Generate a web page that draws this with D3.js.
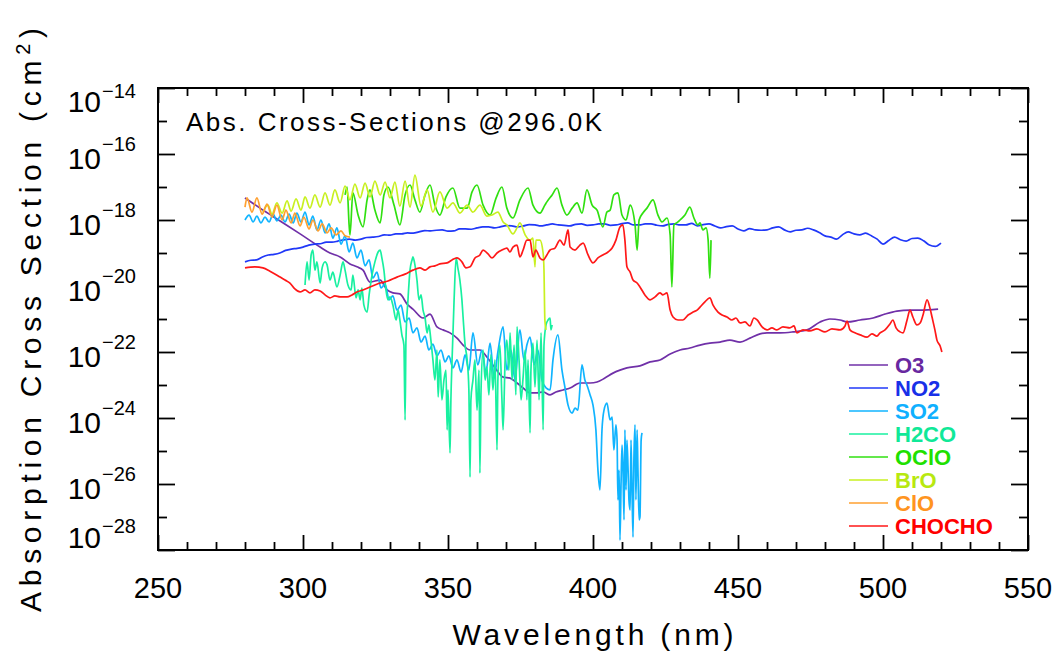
<!DOCTYPE html>
<html><head><meta charset="utf-8">
<script src="https://cdn.jsdelivr.net/npm/d3@7"></script>
<style>body{margin:0;background:#fff}svg{display:block}</style>
</head><body><svg id="c" width="1062" height="653"></svg>
<script>
// ---------------- DATA ----------------
const xTickLabels = [250, 300, 350, 400, 450, 500, 550];
const yTickExps = [-14, -16, -18, -20, -22, -24, -26, -28];
const seriesNames = ["O3", "NO2", "SO2", "H2CO", "OClO", "BrO", "ClO", "CHOCHO"];
const seriesColors = ["#7030a8", "#2038f8", "#10b4ff", "#18f0a0", "#30e010", "#c8f020", "#ffa030", "#ff1818"];
const legendTextColors = ["#6828a0", "#1830e8", "#10b0ff", "#10e898", "#20e000", "#b8e810", "#ff9420", "#ff0000"];
const titleText = "Abs. Cross-Sections @296.0K";

// values: [wavelength nm, log10(cross section cm^2)]
const o3 = [[280.0,-17.33],[285.2,-17.64],[292.1,-18.03],[299.0,-18.42],[305.9,-18.82],[309.3,-19.00],[312.8,-19.12],[316.2,-19.33],[318.6,-19.42],[320.7,-19.52],[323.1,-19.88],[326.6,-19.82],[329.0,-20.12],[331.0,-20.21],[333.4,-20.24],[335.9,-20.55],[337.9,-20.70],[341.4,-20.97],[343.8,-20.85],[346.2,-21.24],[348.3,-21.33],[350.7,-21.42],[353.1,-21.58],[355.2,-21.79],[357.6,-21.94],[361.0,-21.94],[363.4,-22.15],[366.2,-22.48],[369.0,-22.76],[371.4,-22.79],[373.8,-22.94],[375.9,-23.09],[378.3,-23.24],[380.7,-23.24],[382.8,-23.21],[385.2,-23.30],[387.2,-23.21],[389.7,-23.15],[392.1,-23.09],[395.5,-22.94],[399.0,-22.94],[401.4,-22.91],[404.1,-22.79],[406.9,-22.64],[409.3,-22.55],[411.7,-22.48],[416.2,-22.42],[419.7,-22.30],[423.1,-22.24],[426.6,-22.06],[430.0,-21.94],[433.4,-21.88],[436.9,-21.79],[440.3,-21.73],[443.8,-21.70],[447.2,-21.64],[450.7,-21.70],[454.1,-21.58],[457.6,-21.45],[460.0,-21.42],[464.5,-21.42],[469.0,-21.39],[473.8,-21.33],[478.3,-21.09],[481.7,-21.00],[485.2,-21.03],[487.6,-21.09],[492.1,-21.03],[496.6,-20.97],[500.7,-20.85],[504.8,-20.76],[509.3,-20.73],[512.8,-20.73],[519.0,-20.70]];

const no2Start = 280, no2Step = 2;
const no2 = [-19.27,-19.22,-19.21,-19.12,-19.06,-19.04,-19.00,-18.92,-18.88,-18.86,-18.82,-18.76,-18.73,-18.72,-18.67,-18.67,-18.64,-18.60,-18.58,-18.61,-18.58,-18.53,-18.52,-18.50,-18.45,-18.46,-18.42,-18.42,-18.39,-18.40,-18.36,-18.32,-18.33,-18.31,-18.30,-18.34,-18.33,-18.27,-18.27,-18.28,-18.24,-18.21,-18.21,-18.24,-18.21,-18.17,-18.18,-18.21,-18.18,-18.14,-18.15,-18.18,-18.15,-18.12,-18.15,-18.16,-18.18,-18.13,-18.12,-18.16,-18.15,-18.12,-18.12,-18.16,-18.15,-18.11,-18.09,-18.15,-18.15,-18.12,-18.12,-18.16,-18.18,-18.13,-18.12,-18.15,-18.15,-18.10,-18.18,-18.14,-18.12,-18.18,-18.24,-18.20,-18.18,-18.27,-18.33,-18.26,-18.30,-18.31,-18.30,-18.24,-18.21,-18.30,-18.36,-18.31,-18.30,-18.25,-18.30,-18.38,-18.48,-18.52,-18.58,-18.45,-18.36,-18.42,-18.45,-18.40,-18.48,-18.58,-18.73,-18.62,-18.52,-18.60,-18.64,-18.56,-18.55,-18.63,-18.76,-18.80,-18.70];

const so2 = [[280.0,-18.00],[281.4,-17.85],[282.8,-18.06],[284.1,-17.88],[285.5,-18.09],[286.9,-17.91],[288.3,-18.06],[289.7,-17.82],[291.0,-18.03],[292.4,-17.85],[293.8,-18.06],[295.2,-17.82],[296.6,-18.09],[297.9,-17.79],[299.3,-18.06],[300.7,-17.76],[302.1,-18.15],[303.4,-17.88],[304.8,-18.30],[306.2,-18.00],[307.6,-18.39],[309.0,-18.12],[310.3,-18.55],[311.7,-18.24],[313.1,-18.73],[314.5,-18.48],[315.9,-18.97],[317.2,-18.70],[318.6,-19.15],[320.0,-18.91],[321.4,-19.39],[322.8,-19.21],[324.1,-19.76],[325.5,-19.58],[326.9,-20.06],[328.3,-19.94],[329.7,-20.42],[331.0,-20.30],[332.4,-20.73],[333.8,-20.58],[335.2,-21.09],[336.6,-20.97],[337.9,-21.42],[339.3,-21.27],[340.7,-21.70],[342.1,-21.52],[343.4,-21.94],[344.8,-21.76],[346.2,-22.12],[347.6,-21.94],[349.0,-22.30],[350.3,-22.12],[351.7,-22.48],[353.1,-22.24],[354.5,-22.61],[355.9,-22.09],[357.2,-22.55],[358.6,-21.42],[360.3,-22.39],[361.7,-21.94],[363.1,-22.61],[364.5,-21.73],[365.9,-22.79],[367.2,-22.00],[369.0,-21.24],[370.3,-22.55],[371.7,-21.94],[373.1,-22.85],[374.8,-21.33],[376.2,-22.24],[377.2,-21.79],[378.3,-21.55],[379.7,-22.39],[381.0,-21.94],[382.4,-22.85],[383.8,-23.09],[385.2,-23.15],[386.2,-22.24],[387.9,-21.48],[389.3,-22.55],[390.3,-23.06],[391.4,-23.61],[392.8,-23.85],[393.8,-23.70],[394.8,-23.76],[396.2,-22.39],[397.2,-22.85],[397.9,-23.00],[399.0,-23.30],[400.0,-23.61],[401.0,-24.36],[401.7,-25.58],[402.4,-26.18],[403.1,-24.36],[403.8,-23.76],[404.8,-23.55],[405.9,-24.06],[406.6,-23.97],[407.2,-24.97],[407.9,-24.21],[408.3,-24.67],[408.6,-26.48],[409.0,-25.58],[409.3,-27.70],[409.7,-25.88],[410.0,-24.82],[410.3,-25.36],[410.7,-27.09],[411.0,-24.36],[411.4,-26.18],[411.7,-24.67],[412.1,-25.58],[412.4,-26.48],[412.8,-26.79],[413.1,-24.67],[413.4,-25.88],[413.8,-27.61],[414.1,-25.27],[414.5,-24.21],[414.8,-26.48],[415.2,-24.36],[415.5,-25.58],[415.9,-27.09],[416.2,-27.00],[416.6,-24.67],[416.9,-24.45]];

const h2co = [[300.7,-19.97],[301.4,-19.27],[302.1,-19.82],[302.8,-19.06],[303.4,-18.91],[304.1,-19.52],[304.8,-19.27],[305.9,-19.91],[306.6,-19.45],[307.6,-19.27],[308.3,-19.36],[309.3,-19.82],[310.3,-19.58],[311.7,-20.03],[312.8,-19.67],[313.8,-19.27],[314.5,-19.52],[315.5,-19.97],[316.6,-20.12],[317.2,-19.67],[318.3,-20.36],[319.0,-20.12],[319.7,-20.42],[320.3,-20.06],[321.0,-20.58],[322.1,-20.79],[322.8,-20.27],[323.8,-19.67],[324.8,-19.27],[325.9,-18.97],[326.6,-18.91],[327.2,-19.15],[327.9,-19.52],[328.6,-20.12],[329.3,-20.42],[330.0,-20.33],[331.0,-20.58],[332.1,-21.03],[332.8,-20.73],[333.4,-21.03],[334.1,-21.48],[334.8,-21.79],[335.2,-24.06],[335.5,-21.64],[336.2,-20.42],[336.9,-19.52],[337.6,-19.21],[337.9,-19.12],[338.6,-19.36],[339.3,-19.82],[340.0,-20.42],[340.7,-20.27],[341.4,-20.73],[342.1,-20.97],[342.8,-21.42],[343.4,-21.18],[344.1,-21.64],[344.8,-22.24],[345.5,-22.85],[346.2,-21.94],[346.6,-23.36],[347.2,-22.24],[347.9,-23.45],[348.6,-22.85],[349.3,-22.55],[349.7,-24.36],[350.0,-23.15],[350.7,-25.06],[351.0,-23.45],[351.4,-22.24],[352.1,-20.42],[352.8,-19.15],[353.4,-19.45],[354.1,-19.82],[354.8,-20.42],[355.2,-20.94],[355.9,-21.79],[356.6,-22.24],[357.2,-23.15],[357.6,-25.79],[357.9,-23.45],[358.6,-22.85],[359.3,-22.24],[360.0,-23.76],[360.7,-22.55],[361.0,-25.67],[361.4,-23.15],[362.1,-21.94],[362.8,-22.85],[363.4,-22.45],[364.1,-23.30],[364.8,-22.09],[365.5,-23.15],[366.2,-22.24],[366.9,-24.97],[367.2,-22.85],[367.9,-21.79],[368.6,-23.45],[369.0,-24.36],[369.7,-22.24],[370.3,-21.64],[371.0,-22.55],[371.4,-21.42],[372.1,-22.85],[372.8,-21.79],[373.4,-23.30],[373.8,-21.24],[374.5,-22.24],[375.2,-23.45],[375.9,-22.76],[376.6,-21.94],[377.2,-23.45],[377.6,-22.24],[378.3,-24.45],[378.6,-22.55],[379.3,-21.73],[380.0,-23.06],[380.7,-21.64],[381.4,-23.45],[382.1,-21.42],[382.8,-24.36],[383.1,-21.79],[383.8,-21.18],[384.5,-21.03],[385.2,-20.97],[385.5,-21.33],[385.9,-21.18]];

const oclo = [[314.5,-17.24],[315.2,-17.00],[315.9,-18.15],[316.2,-18.45],[317.2,-17.18],[319.0,-17.85],[320.7,-18.21],[322.1,-17.39],[323.1,-17.09],[324.8,-17.70],[326.6,-18.09],[327.9,-17.24],[329.3,-17.00],[331.4,-17.55],[333.4,-18.15],[335.2,-17.24],[336.9,-16.94],[338.6,-17.39],[340.3,-17.76],[342.1,-17.24],[343.8,-16.94],[345.5,-17.55],[347.2,-17.85],[349.3,-17.30],[351.7,-17.03],[354.1,-17.64],[356.6,-17.64],[358.3,-17.15],[360.0,-16.94],[362.1,-17.55],[364.5,-17.85],[366.6,-17.33],[368.6,-17.00],[370.3,-17.64],[372.4,-17.94],[374.8,-17.39],[377.6,-17.03],[379.3,-17.55],[381.7,-17.79],[383.4,-17.55],[384.1,-17.45],[385.9,-17.24],[387.6,-17.03],[389.3,-17.55],[391.0,-17.85],[392.8,-17.64],[394.5,-17.48],[396.2,-17.79],[397.9,-17.09],[399.7,-17.55],[401.4,-17.70],[403.4,-18.21],[404.8,-17.76],[405.9,-17.70],[407.2,-17.24],[408.6,-17.18],[410.0,-17.85],[411.4,-18.00],[412.8,-17.55],[414.5,-18.15],[415.2,-18.91],[415.9,-18.00],[417.2,-17.79],[418.6,-17.64],[420.7,-17.39],[422.4,-17.85],[423.8,-18.06],[425.5,-17.94],[426.6,-18.45],[427.2,-20.03],[427.9,-18.15],[429.3,-18.06],[430.0,-18.00],[431.7,-17.85],[433.4,-17.61],[434.8,-17.94],[436.2,-18.15],[436.9,-18.09],[437.9,-18.30],[439.0,-18.24],[439.7,-18.61],[440.3,-19.76],[440.7,-18.61]];

const bro = [[286.2,-17.76],[287.9,-17.55],[289.3,-17.82],[291.0,-17.48],[292.8,-17.79],[294.5,-17.42],[295.9,-17.73],[297.6,-17.36],[299.3,-17.70],[300.7,-17.30],[302.4,-17.64],[304.1,-17.24],[305.9,-17.61],[307.6,-17.18],[309.3,-17.55],[311.0,-17.09],[312.8,-17.48],[314.5,-16.97],[316.2,-17.39],[317.9,-16.91],[319.7,-17.33],[321.4,-16.88],[323.1,-17.30],[324.8,-16.82],[326.6,-17.24],[328.3,-16.85],[330.0,-17.33],[331.7,-16.85],[333.4,-17.58],[335.2,-16.82],[336.9,-17.61],[338.6,-16.64],[340.7,-17.58],[342.8,-17.09],[344.8,-17.76],[347.2,-17.15],[349.7,-17.64],[351.7,-17.48],[354.1,-17.79],[356.6,-17.55],[358.6,-17.76],[361.0,-17.55],[363.4,-17.88],[365.2,-17.85],[367.2,-17.76],[369.0,-18.06],[370.3,-18.15],[372.4,-18.42],[373.8,-18.24],[374.8,-18.09],[376.6,-18.45],[378.3,-18.61],[379.3,-18.55],[380.0,-19.42],[380.3,-18.61],[381.7,-18.61],[382.8,-19.00],[383.1,-19.52],[383.4,-21.03],[383.8,-21.33]];

const clo = [[280.0,-17.61],[280.7,-17.33],[282.4,-17.76],[284.1,-17.33],[285.9,-17.82],[287.6,-17.52],[289.3,-17.91],[291.0,-17.55],[292.8,-18.00],[294.1,-17.70],[295.9,-18.09],[297.2,-17.79],[299.0,-18.18],[300.3,-17.91],[302.1,-18.27],[303.4,-18.00],[305.2,-18.33],[306.6,-18.12],[308.3,-18.39],[309.7,-18.24],[311.4,-18.45],[313.1,-18.33],[314.5,-18.48],[316.2,-18.52]];

const chocho = [[280.0,-19.45],[283.4,-19.42],[286.2,-19.45],[288.6,-19.55],[292.1,-19.73],[293.8,-19.82],[295.5,-19.91],[297.2,-20.09],[299.0,-20.18],[300.7,-20.12],[302.4,-20.21],[304.1,-20.12],[305.9,-20.15],[307.6,-20.27],[309.3,-20.36],[311.0,-20.30],[312.8,-20.33],[315.2,-20.33],[316.9,-20.27],[318.6,-20.18],[320.7,-20.12],[323.1,-20.03],[324.8,-19.97],[326.6,-19.91],[329.3,-19.85],[332.4,-19.73],[335.2,-19.64],[337.9,-19.52],[340.3,-19.45],[342.1,-19.52],[343.8,-19.42],[345.5,-19.39],[347.2,-19.33],[349.7,-19.30],[351.4,-19.21],[353.1,-19.15],[354.8,-19.27],[356.2,-19.45],[357.6,-19.42],[359.3,-19.15],[361.0,-19.06],[362.1,-18.91],[363.8,-19.03],[365.2,-19.15],[366.9,-19.00],[368.6,-18.91],[370.3,-18.85],[371.4,-18.97],[372.4,-18.82],[373.8,-18.76],[374.8,-19.12],[375.9,-18.91],[377.2,-18.61],[378.3,-18.61],[379.3,-19.12],[380.3,-18.91],[381.7,-19.15],[382.8,-19.21],[384.1,-19.06],[385.2,-18.91],[386.9,-18.85],[388.6,-18.61],[390.0,-18.76],[391.4,-18.30],[392.1,-18.82],[393.8,-18.91],[395.5,-18.76],[396.6,-18.70],[398.3,-19.06],[400.0,-19.30],[401.7,-19.15],[403.4,-19.06],[405.2,-18.97],[406.6,-18.85],[407.9,-18.61],[409.3,-18.21],[410.3,-18.15],[411.0,-18.61],[411.7,-19.42],[412.8,-19.58],[413.8,-19.82],[415.2,-19.91],[416.2,-20.03],[417.9,-20.27],[419.7,-20.42],[421.4,-20.33],[423.1,-20.21],[424.1,-20.27],[425.5,-20.21],[426.6,-20.73],[427.6,-20.94],[429.3,-21.03],[431.0,-21.03],[432.8,-20.88],[434.5,-20.79],[435.9,-20.73],[436.9,-20.64],[438.6,-20.48],[440.3,-20.36],[441.4,-20.58],[443.1,-20.79],[444.5,-20.88],[446.2,-20.94],[447.9,-21.03],[449.3,-20.97],[450.7,-21.12],[452.4,-21.09],[454.1,-21.21],[455.5,-20.97],[456.6,-21.03],[458.3,-21.24],[460.0,-21.33],[461.7,-21.27],[463.4,-21.33],[465.5,-21.24],[467.9,-21.27],[469.3,-21.21],[470.3,-21.42],[472.4,-21.33],[474.8,-21.36],[477.2,-21.30],[480.0,-21.39],[482.4,-21.30],[485.2,-21.33],[486.9,-21.21],[487.6,-21.06],[488.6,-21.33],[490.3,-21.42],[492.1,-21.48],[494.5,-21.55],[496.2,-21.45],[497.9,-21.52],[499.0,-21.42],[500.7,-21.33],[502.4,-21.15],[503.4,-21.03],[504.5,-21.27],[505.9,-21.39],[506.9,-21.42],[508.3,-21.03],[509.3,-20.73],[510.3,-20.94],[511.7,-21.18],[512.8,-21.12],[513.8,-20.88],[515.2,-20.42],[516.2,-20.67],[516.9,-20.94],[517.9,-21.33],[518.6,-21.64],[519.7,-21.82],[520.3,-22.00]];

// ---------------- DRAW ----------------
const svg = d3.select("#c");
const L = 158, R = 1028, T = 88, B = 550;
const x = d3.scaleLinear().domain([250, 550]).range([L, R]);
const y = d3.scaleLog().domain([1e-28, 1e-14]).range([B, T]);
const FONT = "'Liberation Sans', Arial, sans-serif";

svg.append("defs").append("clipPath").attr("id", "clip")
  .append("rect").attr("x", L).attr("y", T).attr("width", R - L).attr("height", B - T);

const no2Pairs = no2.map((v, i) => [no2Start + i * no2Step, v]);
const allSeries = [o3, no2Pairs, so2, h2co, oclo, bro, clo, chocho];

const line = d3.line().curve(d3.curveMonotoneX).x(d => x(d[0])).y(d => y(Math.pow(10, d[1])));
const plot = svg.append("g").attr("clip-path", "url(#clip)");
allSeries.forEach((s, i) => {
  plot.append("path").datum(s).attr("d", line)
    .attr("fill", "none").attr("stroke", seriesColors[i])
    .attr("stroke-width", 1.7).attr("stroke-linejoin", "round");
});

// axes (ticks only)
function clean(g) {
  g.select(".domain").remove();
  g.selectAll("text").remove();
  g.selectAll("line").attr("stroke", "#000").attr("stroke-width", 1.8);
}
const xMinor = d3.range(250, 551, 10).filter(v => v % 50 !== 0);
const yMajor = yTickExps.map(e => Math.pow(10, e));
const yMinor = d3.range(-27, -14, 2).map(e => Math.pow(10, e));

svg.append("g").attr("transform", `translate(0,${B})`).call(d3.axisBottom(x).tickValues(xTickLabels).tickSize(-15)).call(clean);
svg.append("g").attr("transform", `translate(0,${B})`).call(d3.axisBottom(x).tickValues(xMinor).tickSize(-8)).call(clean);
svg.append("g").attr("transform", `translate(0,${T})`).call(d3.axisTop(x).tickValues(xTickLabels).tickSize(-15)).call(clean);
svg.append("g").attr("transform", `translate(0,${T})`).call(d3.axisTop(x).tickValues(xMinor).tickSize(-8)).call(clean);
svg.append("g").attr("transform", `translate(${L},0)`).call(d3.axisLeft(y).tickValues(yMajor).tickSize(-17)).call(clean);
svg.append("g").attr("transform", `translate(${L},0)`).call(d3.axisLeft(y).tickValues(yMinor).tickSize(-9)).call(clean);
svg.append("g").attr("transform", `translate(${R},0)`).call(d3.axisRight(y).tickValues(yMajor).tickSize(-17)).call(clean);
svg.append("g").attr("transform", `translate(${R},0)`).call(d3.axisRight(y).tickValues(yMinor).tickSize(-9)).call(clean);

svg.append("rect").attr("x", L).attr("y", T).attr("width", R - L).attr("height", B - T)
  .attr("fill", "none").attr("stroke", "#000").attr("stroke-width", 2);

// x tick labels
svg.selectAll(".xl").data(xTickLabels).enter().append("text")
  .attr("x", d => x(d)).attr("y", 598).attr("text-anchor", "middle")
  .attr("font-family", FONT).attr("font-size", 29).attr("fill", "#000").text(d => d);

// y tick labels
yTickExps.forEach(e => {
  const ty = y(Math.pow(10, e));
  let base = ty + 15, sup = ty - 3;
  if (e === -14) { base = ty + 24; sup = ty + 10; }
  if (e === -28) { base = ty - 2; sup = ty - 17; }
  svg.append("text").attr("x", 101).attr("y", base).attr("text-anchor", "end")
    .attr("font-family", FONT).attr("font-size", 30).attr("fill", "#000").text("10");
  svg.append("text").attr("x", 102).attr("y", sup).attr("text-anchor", "start")
    .attr("font-family", FONT).attr("font-size", 20).attr("fill", "#000").text("\u2212" + Math.abs(e));
});

// axis titles
svg.append("text").attr("x", 593).attr("y", 645).attr("text-anchor", "middle")
  .attr("font-family", FONT).attr("font-size", 30).attr("fill", "#000")
  .attr("textLength", 281).attr("lengthAdjust", "spacing").text("Wavelength (nm)");

const yt = svg.append("text").attr("transform", "translate(41,320) rotate(-90)")
  .attr("text-anchor", "middle").attr("font-family", FONT).attr("font-size", 30).attr("fill", "#000")
  .attr("textLength", 584).attr("lengthAdjust", "spacing");
yt.append("tspan").text("Absorption Cross Section (cm");
yt.append("tspan").attr("font-size", 20).attr("dy", -11).text("2");
yt.append("tspan").attr("dy", 11).text(")");

// annotation
svg.append("text").attr("x", 186).attr("y", 131).attr("font-family", FONT).attr("font-size", 26)
  .attr("fill", "#000").attr("textLength", 416).attr("lengthAdjust", "spacing").text(titleText);

// legend
const lg = svg.append("g");
seriesNames.forEach((n, i) => {
  const ly = 365 + i * 23;
  lg.append("line").attr("x1", 849).attr("x2", 888).attr("y1", ly).attr("y2", ly)
    .attr("stroke", seriesColors[i]).attr("stroke-width", 1.7);
  lg.append("text").attr("x", 895).attr("y", ly + 8).attr("font-family", FONT).attr("font-size", 22)
    .attr("font-weight", "bold").attr("fill", legendTextColors[i]).text(n);
});
</script>
</body></html>
